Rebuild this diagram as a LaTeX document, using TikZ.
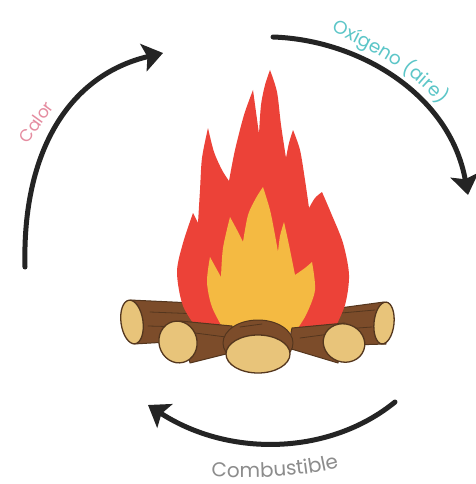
\documentclass[tikz,border=0pt]{standalone}
\usepackage{fontspec}
\newfontfamily\labelfont{Poppins}
\usetikzlibrary{arrows.meta,decorations.text}

\definecolor{flamered}{RGB}{236,66,56}
\definecolor{flameyellow}{RGB}{244,186,66}
\definecolor{logbrown}{RGB}{124,76,42}
\definecolor{logdark}{RGB}{84,54,30}
\definecolor{logtan}{RGB}{232,196,122}
\definecolor{arrowgray}{RGB}{36,36,36}
\definecolor{calorpink}{RGB}{229,140,160}
\definecolor{oxteal}{RGB}{92,198,200}
\definecolor{fuelgray}{RGB}{140,140,140}

\begin{document}
\begin{tikzpicture}[x=1pt,y=-1pt,
  cyclearrow/.style={draw=arrowgray,line width=5pt,line cap=round,
    -{Stealth[length=20pt,width=28pt,inset=4pt]}},
  logbody/.style={fill=logbrown,draw=logdark,line width=1pt,line join=round},
  logend/.style={fill=logtan,draw=logdark,line width=1.3pt},
  grain/.style={draw=logdark,line width=0.8pt,line cap=round},
  cyclelabel/.style={font=\labelfont\fontsize{17}{17}\selectfont}]

% canvas
\fill[white] (0,0) rectangle (475,484);
\useasboundingbox (0,0) rectangle (475,484);

% ---- back logs ----
\filldraw[logbody] (130,300) -- (236,305) -- (236,338) -- (134,344) -- cycle;
\draw[grain] (150,312) -- (225,315);
\draw[grain] (148,326) -- (222,328);
\filldraw[logend] (132,322) ellipse [x radius=11pt, y radius=22pt, rotate=8];

\filldraw[logbody] (310,312) -- (384,302) -- (386,344) -- (318,346) -- cycle;
\draw[grain] (330,314) -- (375,310);
\draw[grain] (330,330) -- (372,327);
\filldraw[logend] (384,323) ellipse [x radius=10pt, y radius=21pt, rotate=-6];

% ---- outer flame ----
\fill[flamered]
  plot[smooth] coordinates {(200,333) (183,306) (177,272) (183,243) (193,213)}
  -- (198,223)
  -- plot[smooth] coordinates {(198,223) (200,190) (202,158) (208,128)}
  -- plot[smooth] coordinates {(208,128) (214,152) (222,170) (229,181)}
  -- plot[smooth] coordinates {(229,181) (235,150) (244,115) (253,90)}
  -- plot[smooth] coordinates {(253,90) (256,112) (259,134)}
  -- plot[smooth] coordinates {(259,134) (261,105) (265,85) (270,70)}
  -- plot[smooth] coordinates {(270,70) (277,92) (281,125) (286,158)}
  -- plot[smooth] coordinates {(286,158) (289,143) (293,130)}
  -- plot[smooth] coordinates {(293,130) (300,150) (305,180) (309,208)}
  -- plot[smooth] coordinates {(309,208) (315,198) (322,192)}
  -- plot[smooth] coordinates {(322,192) (331,213) (343,243) (349,275) (345,305) (333,332)}
  -- cycle;

% ---- inner flame ----
\fill[flameyellow]
  plot[smooth] coordinates {(225,332) (212,307) (207,282) (210,257)}
  -- plot[smooth] coordinates {(210,257) (216,268) (221,277)}
  -- plot[smooth] coordinates {(221,277) (223,248) (230,217)}
  -- plot[smooth] coordinates {(230,217) (237,230) (243,242)}
  -- plot[smooth] coordinates {(243,242) (248,215) (256,198) (263,187)}
  -- plot[smooth] coordinates {(263,187) (270,210) (275,235) (278,252)}
  -- plot[smooth] coordinates {(278,252) (280,236) (284,222)}
  -- plot[smooth] coordinates {(284,222) (289,245) (295,275)}
  -- plot[smooth] coordinates {(295,275) (305,268) (312,262)}
  -- plot[smooth] coordinates {(312,262) (315,290) (306,315) (295,332)}
  -- cycle;

% ---- front logs ----
\filldraw[logbody] (180,321) -- (232,326) -- (234,352) -- (190,363) -- cycle;
\draw[grain] (195,333) -- (226,337);
\filldraw[logend] (178,342) ellipse [x radius=19pt, y radius=21pt, rotate=15];

\filldraw[logbody] (345,323) -- (292,328) -- (288,348) -- (338,363) -- cycle;
\draw[grain] (300,338) -- (330,334);
\filldraw[logend] (344,343) ellipse [x radius=21pt, y radius=19pt, rotate=-20];

\filldraw[logbody] (258,343) ellipse [x radius=35pt, y radius=23pt];
\draw[grain] (240,327) -- (262,324);
\filldraw[logend] (258,354) ellipse [x radius=32pt, y radius=19pt];

% ---- cycle arrows ----
\coordinate (heatS) at (25,267);
\coordinate (heatE) at (163,53);
\coordinate (oxS) at (273,37);
\coordinate (oxE) at (468,195);
\coordinate (fuelS) at (395,402);
\coordinate (fuelE) at (148,405);

\draw[cyclearrow] (heatS) .. controls (22,150) and (70,75) .. (heatE);
\draw[cyclearrow] (oxS) .. controls (360,40) and (450,95) .. (oxE);
\draw[cyclearrow] (fuelS) .. controls (330,455) and (230,458) .. (fuelE);

% ---- labels ----
\node[cyclelabel, text=calorpink, rotate=54] (heat) at (36,122) {Calor};

\coordinate (oxA) at (331,31);
\coordinate (oxB) at (454,124);
\path[decorate, decoration={text along path,
    text={|\labelfont\fontsize{18.5}{18.5}\selectfont\color{oxteal}|Ox{\'{\i}}geno (aire)}}]
  (oxA) .. controls (375,52) and (422,75) .. (oxB);

\coordinate (fuelA) at (198,476);
\coordinate (fuelB) at (352,463);
\path[decorate, decoration={text along path, text align=center,
    text={|\labelfont\fontsize{20}{20}\selectfont\color{fuelgray}|Combustible}}]
  (fuelA) .. controls (255,479) and (312,478) .. (fuelB);

\end{tikzpicture}
\end{document}
